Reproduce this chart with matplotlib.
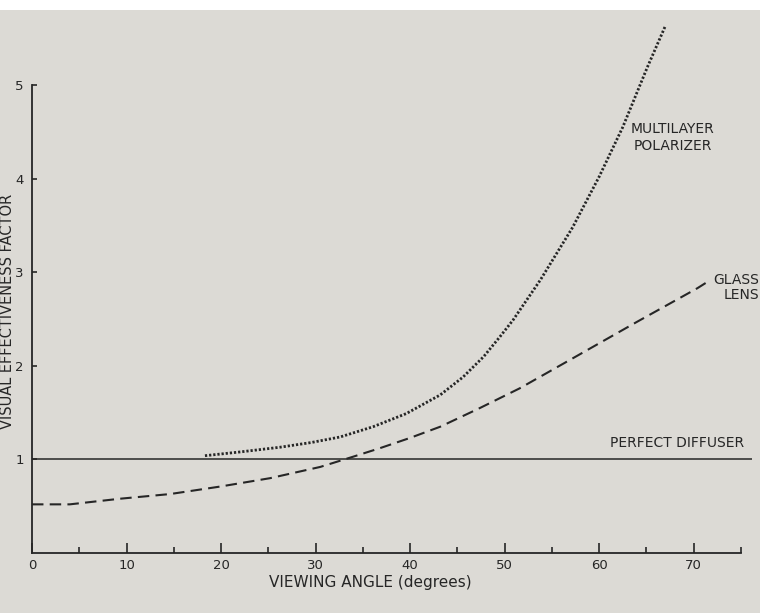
import matplotlib
matplotlib.use("Agg")
import matplotlib.pyplot as plt
from matplotlib.patches import Rectangle

# values
polarizer_x = [18.3, 22.0, 26.2, 29.5, 32.6, 36.1, 39.6, 43.2, 45.6, 47.8, 49.5, 50.9,
               53.8, 57.2, 60.0, 62.5, 65.1, 67.0]
polarizer_y = [1.04, 1.08, 1.13, 1.18, 1.24, 1.35, 1.49, 1.69, 1.88, 2.10, 2.31, 2.49,
               2.92, 3.48, 4.02, 4.55, 5.19, 5.63]

glass_x = [0.0, 4.0, 9.3, 14.6, 19.9, 25.2, 30.5, 34.0, 36.8, 40.0, 43.2, 47.4, 51.6,
           57.2, 64.0, 70.4, 71.5]
glass_y = [0.52, 0.52, 0.58, 0.63, 0.71, 0.80, 0.92, 1.03, 1.12, 1.23, 1.35, 1.55, 1.76,
           2.08, 2.47, 2.83, 2.90]

diffuser_x = [0.0, 76.2]
diffuser_y = [1.0, 1.0]

x_ticks = [0, 10, 20, 30, 40, 50, 60, 70]
x_minor = [5, 15, 25, 35, 45, 55, 65, 75]
y_ticks = [1, 2, 3, 4, 5]

ink = "#262626"
paper = "#dcdad5"

fig = plt.figure(figsize=(7.6, 6.13), dpi=100)
fig.patch.set_facecolor(paper)
fig.patches.append(Rectangle((0, 1 - 10 / 613), 1, 10 / 613, transform=fig.transFigure,
                             facecolor="white", edgecolor="none", zorder=-1))

ax = fig.add_axes([32 / 760, 60 / 613, 723 / 760, 552 / 613])
ax.set_facecolor("none")
ax.set_xlim(0, 76.5)
ax.set_ylim(0, 5.9)

ax.plot(diffuser_x, diffuser_y, color=ink, lw=1.1, solid_capstyle="butt")
ax.plot(glass_x, glass_y, color=ink, lw=1.5, linestyle=(0, (5.5, 3.0)), dash_capstyle="butt")
ax.plot(polarizer_x, polarizer_y, color=ink, lw=2.0, linestyle=(0, (0.8, 0.7)),
        dash_capstyle="butt")

for s in ("top", "right"):
    ax.spines[s].set_visible(False)
for s in ("left", "bottom"):
    ax.spines[s].set_color(ink)
    ax.spines[s].set_linewidth(1.3)
ax.spines["left"].set_bounds(0, 5)
ax.spines["bottom"].set_bounds(0, 75)

ax.set_xticks(x_ticks)
ax.set_xticklabels([str(v) for v in x_ticks])
ax.set_xticks(x_minor, minor=True)
ax.set_yticks(y_ticks)
ax.set_yticklabels([str(v) for v in y_ticks])

ax.tick_params(axis="x", which="major", direction="in", length=7, width=1.2, color=ink,
               labelsize=9.5, labelcolor=ink, pad=4)
ax.tick_params(axis="x", which="minor", direction="in", length=4.5, width=1.2, color=ink)
ax.tick_params(axis="y", which="major", direction="in", length=3.5, width=1.2, color=ink,
               labelsize=9.5, labelcolor=ink, pad=6)

ax.text(67.8, 4.44, "MULTILAYER\nPOLARIZER", ha="center", va="center", fontsize=10,
        color=ink, linespacing=1.3)
ax.text(76.9, 2.84, "GLASS\nLENS", ha="right", va="center", fontsize=10,
        color=ink, linespacing=1.1)
ax.text(75.4, 1.175, "PERFECT DIFFUSER", ha="right", va="center", fontsize=10, color=ink)

fig.text(370 / 760, 1 - 582 / 613, "VIEWING ANGLE (degrees)", ha="center", va="center",
         fontsize=11, color=ink)
fig.text(8 / 760, 1 - 311 / 613, "VISUAL EFFECTIVENESS FACTOR", ha="center", va="center",
         rotation=90, fontsize=10.5, color=ink)

fig.savefig("out.png", dpi=100, facecolor=fig.get_facecolor())
